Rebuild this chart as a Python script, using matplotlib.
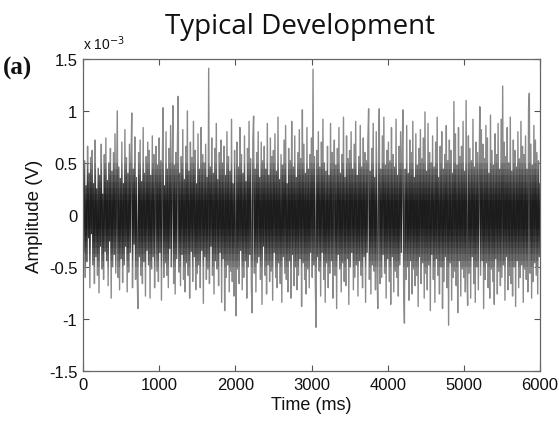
import matplotlib
matplotlib.use("Agg")
import matplotlib.pyplot as plt
from matplotlib.patches import Rectangle
import numpy as np

# Amplitude samples every 10 ms, in units of 1e-5 V (i.e. 100 -> 1e-3 V)
sec0 = [10, -35, 52, -60, 28, -45, 66, -22, 40, -70,
        55, -18, 62, -48, 30, -66, 72, -40, 25, -58,
        45, -75, 38, -30, 68, -52, 20, -62, 58, -35,
        74, -44, 33, -68, 50, -25, 64, -80, 42, -50,
        60, -38, 78, -56, 24, 100, -60, 46, -72, 35,
        -42, 70, -65, 30, -48, 82, -30, 55, -74, 40,
        -55, 68, -36, 50, 98, -70, 44, -28, 75, -62,
        36, -50, -90, 60, -40, 72, -58, 32, -66, 84,
        -45, 40, -78, 56, -34, 70, -48, 62, -80, 38,
        -52, 76, -40, 58, -70, 30, 66, -54, 48, -64]
sec1 = [74, -36, 52, -82, 40, 103, -60, 28, -46, 80,
        -58, 44, -70, 64, -32, 86, -50, 38, 105, -66,
        48, -76, 60, -42, 72, 114, -55, 40, -68, 56,
        -38, 82, -62, 34, -74, 66, -46, 100, -58, 42,
        -80, 70, -35, 55, -64, 90, -40, 62, -72, 30,
        -56, 78, -48, 44, -70, 84, -34, 58, -85, 50,
        -40, 68, -62, 36, -52, 141, -66, 46, -30, 74,
        -58, 40, -76, 64, -44, 88, -52, 34, -68, 60,
        -36, 72, -84, 50, -42, 66, -92, 38, -60, 80,
        -48, 56, -74, 42, -54, 92, -64, 30, -78, 62]
sec2 = [-40, -97, 70, -52, 46, -66, 84, -34, 58, -72,
        40, -60, 76, -44, 32, -80, 64, -50, 90, -38,
        54, -68, -94, 72, 95, -56, 44, -74, 60, -46,
        80, -40, 36, -62, 70, -86, 52, -30, 66, -58,
        44, -76, 88, -48, 38, -64, 74, -54, 56, -82,
        62, -36, 78, -60, 42, -70, 94, -46, 34, -66,
        58, -84, 48, -40, 72, -56, 86, -62, 30, -74,
        64, -44, 52, -80, 90, -38, 46, -68, 76, -50,
        36, -72, 60, -58, 82, -42, 54, -88, 101, -46,
        68, -62, 40, -76, 84, -52, 44, -70, 58, -36]
sec3 = [74, -60, 140, -48, 56, -66, -108, 62, -40, 80,
        -54, 46, -78, 70, -36, 92, -62, 50, -84, 42,
        -46, 66, -70, 38, -56, 88, -44, 60, -80, 34,
        72, -58, 48, -90, 64, -38, 84, -52, 40, -74,
        58, -46, 94, -64, 36, -68, 76, -42, 54, -86,
        62, -50, 80, -36, 44, -72, 68, -60, 90, -48,
        38, -78, 56, -44, 86, -58, 46, -70, 74, -40,
        60, -84, 52, -36, 70, 102, -62, 42, -76, 64,
        -48, 88, -54, 36, -72, 80, -46, -90, 58, 102,
        -66, 44, -60, 76, -38, 94, -56, 48, -80, 62]
sec4 = [-42, 70, -64, 52, -86, 84, -40, 58, -74, 46,
        -54, 92, -60, 38, -78, 66, -48, 80, -36, 56,
        101, -70, -104, 44, -62, 86, -50, 40, -82, 72,
        -44, 60, -76, 90, -52, 36, -68, 78, -58, 48,
        -88, 64, -40, 82, -66, 54, -46, 74, -80, 99,
        -56, 42, -72, 88, -48, 60, -92, 50, -38, 76,
        -62, 46, -84, 70, -42, 94, -58, 36, -76, 66,
        -50, 80, -90, 44, -64, 58, -40, 86, -70, 52,
        -106, 72, -46, 62, -82, 40, -60, 109, -54, 78,
        -68, 48, -94, 84, -44, 56, -78, 66, -52, 90]
sec5 = [-60, 42, -74, 110, -48, -87, 76, -56, 64, -80,
        52, -40, 92, -66, 46, -84, 70, -50, 60, -72,
        38, 104, -58, 82, -44, 68, -90, 54, -62, 86,
        -46, 74, -70, 40, -80, 96, -52, 62, -64, 48,
        -86, 78, -42, 58, -76, 88, -54, 44, -68, 92,
        -60, 124, -48, 70, -82, 56, -40, 84, -72, 50,
        -58, 94, -66, 42, -78, 72, -50, 62, -88, 46,
        -44, 80, -70, 54, -60, 90, -48, 66, -84, 58,
        -52, 76, -62, 44, -74, 103, 117, -56, 68, -80,
        48, -64, 86, -46, 72, -58, 60, -76, 52, -40, 30]

sample_step_ms = 10
x_ticks = [0, 1000, 2000, 3000, 4000, 5000, 6000]
y_ticks = [-1.5, -1, -0.5, 0, 0.5, 1, 1.5]
y_tick_labels = ["-1.5", "-1", "-0.5", "0", "0.5", "1", "1.5"]

amp = np.array(sec0 + sec1 + sec2 + sec3 + sec4 + sec5, dtype=float) * 1e-5
t = np.arange(len(amp)) * sample_step_ms

fig = plt.figure(figsize=(5.59, 4.31), dpi=100)
ax = fig.add_axes([0.1485, 0.137, 0.8175, 0.724])

# full trace in grey
ax.plot(t, amp * 1e3, color="#8a8a8a", lw=1.0)
# the dense middle of the same trace darkens smoothly towards zero
for half in [0.5, 0.44, 0.38, 0.32, 0.26, 0.2, 0.14]:
    core, = ax.plot(t, amp * 1e3, color="black", lw=0.6, alpha=0.2)
    band = Rectangle((0, -half), 6000, 2 * half, transform=ax.transData,
                     facecolor="none", edgecolor="none")
    ax.add_patch(band)
    core.set_clip_path(band)

ax.set_xlim(0, 6000)
ax.set_ylim(-1.5, 1.5)
ax.set_xticks(x_ticks)
ax.set_yticks(y_ticks)
ax.set_yticklabels(y_tick_labels)

fam = ["Liberation Sans", "DejaVu Sans"]
for lab in ax.get_xticklabels() + ax.get_yticklabels():
    lab.set_fontfamily(fam)
    lab.set_fontsize(12)
ax.tick_params(direction="in", length=4, width=0.8, color="#555555",
               top=True, right=True, pad=4, labelcolor="#111111")
for s in ax.spines.values():
    s.set_color("#666666")
    s.set_linewidth(0.9)

ax.set_xlabel("Time (ms)", fontfamily=fam, fontsize=13, labelpad=3, color="#111111")
ax.set_ylabel("Amplitude (V)", fontfamily=fam, fontsize=13.5, labelpad=4, color="#111111")

fig.text(0.148, 0.885, "x 10$^{-3}$", fontfamily=fam, fontsize=10, color="#111111")
fig.text(0.006, 0.826, "(a)", fontfamily=["Liberation Serif"], fontweight="bold",
         fontsize=18, color="#111111")
fig.text(0.536, 0.922, "Typical Development", fontfamily=["Open Sans", "DejaVu Sans"],
         fontsize=20, ha="center", color="#111111")

fig.savefig("out.png", dpi=100)
